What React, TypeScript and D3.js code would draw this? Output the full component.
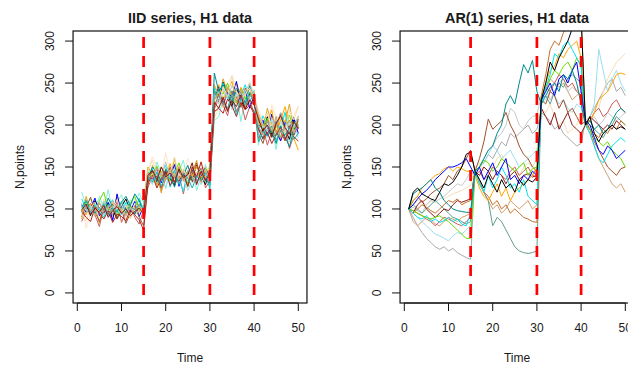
import React from "react";
import * as d3 from "d3";

const xTicks = [0, 10, 20, 30, 40, 50];
const yTicks = [0, 50, 100, 150, 200, 250, 300];
const changePoints = [15, 30, 40];
const timeIndex = d3.range(1, 51);

// ---------- IID series (H1 data) ----------
const iid1 = [98,104,92,110,101,95,107,99,88,103,112,97,94,106,100, 138,145,132,150,141,136,128,147,139,144,133,152,140,129,146, 240,228,251,236,222,244,230,219,238,226, 205,192,210,188,199,214,195,183,207,196];
const iid2 = [105,96,101,113,92,99,108,86,118,94,102,97,109,91,103, 142,135,149,131,144,138,153,127,141,136,147,134,139,150,137, 231,246,224,239,233,252,228,241,220,235, 198,206,187,213,192,181,203,197,209,190];
const iid3 = [112,101,95,106,99,90,104,111,97,93,108,100,95,113,98, 136,148,129,143,152,126,140,135,121,146,138,131,144,136,128, 244,236,250,231,241,227,235,248,229,238, 193,211,199,186,204,195,215,189,201,207];
const iid4 = [96,108,103,94,110,120,99,105,92,101,96,107,115,98,102, 144,139,151,137,146,133,142,155,139,131,148,143,136,149,141, 229,242,237,250,233,226,244,231,239,228, 202,196,208,191,200,185,198,212,194,204];
const iid5 = [99,93,106,101,97,104,95,109,102,98,94,103,100,96,105, 150,141,128,145,135,154,139,132,147,141,137,151,138,145,149, 235,248,230,241,252,226,245,236,243,230, 210,197,203,218,190,206,222,199,184,170];
const iid6 = [91,102,114,97,85,100,93,106,88,99,83,95,104,90,80, 133,146,138,125,142,149,131,144,136,128,141,155,134,143,138, 222,237,229,216,240,233,221,244,228,215, 190,178,196,185,203,192,181,199,188,207];
const iid7 = [103,110,99,95,107,98,113,102,96,108,115,104,118,110,96, 137,150,143,134,147,139,126,145,140,152,135,141,147,133,139, 262,240,248,235,229,244,238,226,247,231, 196,183,205,192,178,199,186,174,195,201];
const iid8 = [100,95,104,97,108,93,101,110,99,105,91,102,97,106,94, 141,134,148,139,156,137,143,130,146,138,150,133,141,147,136, 236,229,243,232,247,238,225,240,250,233, 214,201,193,209,198,215,190,205,197,211];
const iid9 = [107,98,103,92,100,109,96,104,99,93,106,101,92,99,105, 139,129,145,136,126,141,148,132,138,122,135,143,129,140,132, 238,225,246,233,218,239,227,242,230,236, 186,199,192,207,183,196,190,204,193,185];
const iid10 = [94,86,101,108,95,103,92,99,111,96,104,90,107,100,97, 146,158,140,151,137,144,162,139,148,135,153,141,146,150,143, 214,222,245,234,259,241,229,237,244,232, 200,207,214,195,211,203,190,218,206,222];
const iid11 = [97,90,85,102,95,88,98,84,94,91,86,99,93,87,75, 131,140,125,136,145,128,139,133,142,127,150,138,156,135,131, 216,220,214,231,223,210,227,218,224,213, 195,184,191,178,189,197,183,192,186,181];
const iid12 = [101,110,96,104,98,106,92,101,97,109,95,103,99,105,101, 138,132,144,127,140,136,146,129,142,137,125,139,134,143,124, 241,234,226,220,236,212,231,224,239,228, 180,192,187,199,181,194,188,196,183,190];
const iid13 = [95,103,99,91,107,97,102,94,105,98,93,101,96,104,92, 143,137,149,140,134,146,138,151,133,145,139,130,144,137,140, 230,239,221,245,236,228,242,220,234,240, 198,188,205,193,210,184,199,206,191,200];
const iid14 = [99,106,93,101,96,104,90,98,103,95,100,92,97,101,94, 140,146,135,150,138,143,132,148,137,141,155,129,145,134,142, 227,220,233,217,229,222,236,219,230,224, 207,193,200,186,202,211,197,189,204,196];
const iid15 = [88,115,97,104,83,109,100,92,117,95,106,89,101,112,97, 128,152,141,119,148,137,160,133,145,126,143,158,131,147,135, 248,233,255,239,226,250,222,237,245,228, 212,195,220,201,187,214,203,225,194,210];
const iid16 = [85,98,107,93,79,102,96,88,110,84,97,105,90,82,99, 126,139,147,122,136,150,129,141,118,144,132,137,149,125,134, 219,231,224,211,238,216,229,206,222,217, 184,197,176,192,205,181,194,172,188,199];
const iid17 = [120,104,112,99,115,101,123,96,108,117,99,111,104,119,107, 149,131,156,142,124,151,136,145,158,130,147,122,139,153,130, 205,210,232,246,221,240,204,234,225,242, 176,203,185,197,171,206,192,180,199,187];
const iid18 = [108,77,95,103,90,112,98,106,93,101,88,97,110,96,103, 145,162,150,138,167,143,155,147,136,160,149,141,157,144,152, 208,221,239,250,258,233,244,229,252,236, 218,206,197,224,209,200,216,193,212,222];

const iidSeries = [iid18, iid17, iid16, iid15, iid1, iid2, iid3, iid4, iid5, iid6, iid7, iid8, iid9, iid10, iid11, iid12, iid13, iid14];
const iidColors = ["#FFE4C4", "#7FEFD8", "#CD5C5C", "#DAA520", "#000000", "#0000FF", "#00E5EE", "#66DD00", "#FFA500", "#A0522D", "#008B8B", "#BEBEBE", "#9EDDEE", "#F5DEB3", "#B22222", "#20B2AA", "#D2A070", "#8B1A1A"];

// ---------- AR(1) series (H1 data) ----------
const ar1 = [100,120,125,118,115,112,110,120,130,128,132,140,150,165,168, 145,135,125,140,130,120,135,125,130,120,135,128,135,132,138, 230,250,275,265,280,290,300,315,320,330, 200,210,190,180,190,195,200,195,198,195];
const ar2 = [100,105,112,118,122,128,135,140,145,150,150,152,155,160,150, 140,150,135,145,155,140,150,160,135,140,130,140,135,145,140, 230,240,250,235,255,260,250,265,275,240, 205,200,185,170,165,175,170,160,165,170];
const ar3 = [100,95,90,88,92,85,88,84,86,90,85,88,82,80,95, 145,130,120,140,125,135,150,140,125,130,120,135,115,110,105, 225,245,260,285,280,295,300,290,280,270, 200,190,175,160,155,165,175,180,185,180];
const ar4 = [100,98,95,92,90,88,90,92,88,85,80,75,70,65,65, 145,150,158,155,145,150,160,155,150,145,150,155,140,148,150, 230,245,255,265,260,270,275,265,280,270, 200,195,185,180,175,180,170,165,160,150];
const ar5 = [100,110,115,125,130,135,140,142,148,150,145,150,148,145,145, 140,125,115,110,120,130,115,125,110,120,125,130,135,140,150, 230,250,265,270,285,280,290,295,300,280, 200,205,215,230,235,240,250,260,262,260];
const ar6 = [100,110,115,108,112,118,122,125,130,140,135,145,150,160,170, 145,160,180,207,195,200,205,215,200,190,175,165,160,150,145, 230,225,240,235,220,230,215,220,210,200, 205,195,180,170,160,150,145,140,148,150];
const ar7 = [100,118,122,125,130,135,125,120,110,105,100,98,97,96,96, 145,150,160,170,175,190,200,225,235,225,250,272,262,277,240, 225,235,245,250,240,260,255,265,250,225, 200,205,195,200,190,195,205,215,220,215];
const ar8 = [100,105,100,95,100,105,110,105,100,95,90,88,85,82,85, 145,135,120,110,80,90,85,75,65,55,50,48,47,48,50, 230,235,225,240,250,245,255,260,255,250, 205,200,195,190,185,195,200,210,205,200];
const ar9 = [100,90,80,72,65,60,55,52,55,50,53,48,45,42,40, 145,150,155,165,160,170,180,175,190,185,190,195,200,190,195, 215,210,205,195,200,190,185,180,175,178, 205,210,220,230,240,250,255,240,245,235];
const ar10 = [100,95,90,85,80,75,70,68,65,62,68,72,70,75,80, 145,150,155,165,175,170,160,165,170,160,150,155,160,165,170, 225,230,240,235,225,230,220,215,225,220, 200,210,225,290,265,240,255,265,250,240];
const ar11 = [100,105,110,108,105,110,115,118,112,115,118,120,122,125,128, 150,155,145,140,150,160,165,155,150,145,140,150,155,150,160, 220,215,225,210,200,205,190,195,200,215, 200,205,215,220,240,255,265,275,280,285];
const ar12 = [100,95,105,110,100,95,90,95,100,98,105,110,108,110,112, 145,140,150,145,135,145,140,130,140,145,135,140,142,138,140, 220,210,200,215,195,205,215,200,195,190, 200,210,205,200,195,200,195,205,200,195];
const ar13 = [100,85,80,85,90,88,82,80,85,90,88,85,90,92,95, 140,135,120,110,100,105,95,100,110,105,100,105,110,100,105, 235,240,255,250,245,250,240,230,235,240, 200,190,175,160,150,140,130,125,130,120];
const ar14 = [100,102,98,95,105,110,108,112,115,120,125,130,128,135,145, 145,150,160,170,175,185,190,200,220,215,200,195,205,210,212, 235,245,230,240,250,255,240,245,240,250, 200,205,210,200,205,215,210,205,210,215];
const ar15 = [100,95,100,105,102,98,95,100,105,110,108,112,105,108,110, 145,130,120,115,105,110,100,105,95,100,95,90,88,85,84, 235,260,290,300,295,310,320,315,330,330, 200,195,190,185,195,190,200,195,205,200];
const ar16 = [100,98,95,92,88,85,80,85,90,88,85,82,80,85,90, 140,145,135,140,150,145,140,135,145,150,140,145,150,140,138, 230,245,240,250,260,255,245,250,240,235, 200,205,215,220,210,215,225,230,220,215];

const arSeries = [ar9, ar10, ar11, ar13, ar14, ar16, ar8, ar12, ar6, ar15, ar5, ar4, ar3, ar2, ar7, ar1];
const arColors = ["#AAAAAA", "#9EDDEE", "#F5DEB3", "#D2A070", "#C8C8C8", "#CD5C5C", "#5F9F8F", "#8B1A1A", "#A0522D", "#C8702A", "#FFA500", "#66DD00", "#00E5EE", "#0000FF", "#008B8B", "#000000"];

const FONT = "'Liberation Sans', Arial, Helvetica, sans-serif";
const TEXT_COLOR = "#1a1a1a";

type PanelProps = {
  id: string;
  title: string;
  boxLeft: number;
  series: number[][];
  colors: string[];
};

function Panel({ id, title, boxLeft, series, colors }: PanelProps) {
  const boxTop = 31;
  const boxBottom = 303;
  const pxPerUnit = 4.42;
  const xs = d3
    .scaleLinear()
    .domain([-0.96, 51.96])
    .range([boxLeft, boxLeft + 52.92 * pxPerUnit]);
  const ys = d3.scaleLinear().domain([-12, 312]).range([boxBottom, boxTop]);
  const boxRight = xs(51.96);
  const line = d3
    .line<number>()
    .x((_, i) => xs(timeIndex[i]))
    .y((d) => ys(d));
  const cx = (boxLeft + boxRight) / 2;
  return (
    <g>
      <defs>
        <clipPath id={`clip-${id}`}>
          <rect x={boxLeft} y={boxTop} width={boxRight - boxLeft} height={boxBottom - boxTop} />
        </clipPath>
      </defs>
      <g clipPath={`url(#clip-${id})`}>
        {series.map((s, i) => (
          <path key={i} d={line(s) || ""} fill="none" stroke={colors[i % colors.length]} strokeWidth={1} strokeLinejoin="round" />
        ))}
        {changePoints.map((c) => (
          <line
            key={c}
            x1={xs(c)}
            x2={xs(c)}
            y1={boxTop}
            y2={boxBottom}
            stroke="#FF0000"
            strokeWidth={2.7}
            strokeDasharray="11 8"
            strokeDashoffset={13}
          />
        ))}
      </g>
      <rect x={boxLeft} y={boxTop} width={boxRight - boxLeft} height={boxBottom - boxTop} fill="none" stroke="#111" strokeWidth={1.2} />
      <line x1={xs(0)} x2={xs(50)} y1={boxBottom} y2={boxBottom} stroke="#111" strokeWidth={1} />
      {xTicks.map((t) => (
        <g key={t}>
          <line x1={xs(t)} x2={xs(t)} y1={boxBottom} y2={boxBottom + 8} stroke="#111" strokeWidth={1} />
          <text x={xs(t)} y={328} textAnchor="middle" dominantBaseline="central" fontSize={12} fontFamily={FONT} fill={TEXT_COLOR}>
            {t}
          </text>
        </g>
      ))}
      {yTicks.map((t) => (
        <g key={t}>
          <line x1={boxLeft - 8} x2={boxLeft} y1={ys(t)} y2={ys(t)} stroke="#111" strokeWidth={1} />
          <text
            x={boxLeft - 23}
            y={ys(t)}
            transform={`rotate(-90, ${boxLeft - 23}, ${ys(t)})`}
            textAnchor="middle"
            dominantBaseline="central"
            fontSize={12}
            fontFamily={FONT}
            fill={TEXT_COLOR}
          >
            {t}
          </text>
        </g>
      ))}
      <text x={cx} y={18} textAnchor="middle" dominantBaseline="central" fontSize={14.4} fontWeight="bold" fontFamily={FONT} fill={TEXT_COLOR}>
        {title}
      </text>
      <text x={cx} y={358} textAnchor="middle" dominantBaseline="central" fontSize={12} fontFamily={FONT} fill={TEXT_COLOR}>
        Time
      </text>
      <text
        x={boxLeft - 53}
        y={167}
        transform={`rotate(-90, ${boxLeft - 53}, 167)`}
        textAnchor="middle"
        dominantBaseline="central"
        fontSize={12}
        fontFamily={FONT}
        fill={TEXT_COLOR}
      >
        N.points
      </text>
    </g>
  );
}

export default function App() {
  return (
    <svg
      width={628}
      height={367}
      viewBox="0 0 628 367"
      style={{ position: "absolute", left: 0, top: 0, background: "#fff", display: "block" }}
    >
      <rect x={0} y={0} width={628} height={367} fill="#fff" />
      <Panel id="iid" title="IID series, H1 data" boxLeft={73.06} series={iidSeries} colors={iidColors} />
      <Panel id="ar" title="AR(1) series, H1 data" boxLeft={400.06} series={arSeries} colors={arColors} />
    </svg>
  );
}
